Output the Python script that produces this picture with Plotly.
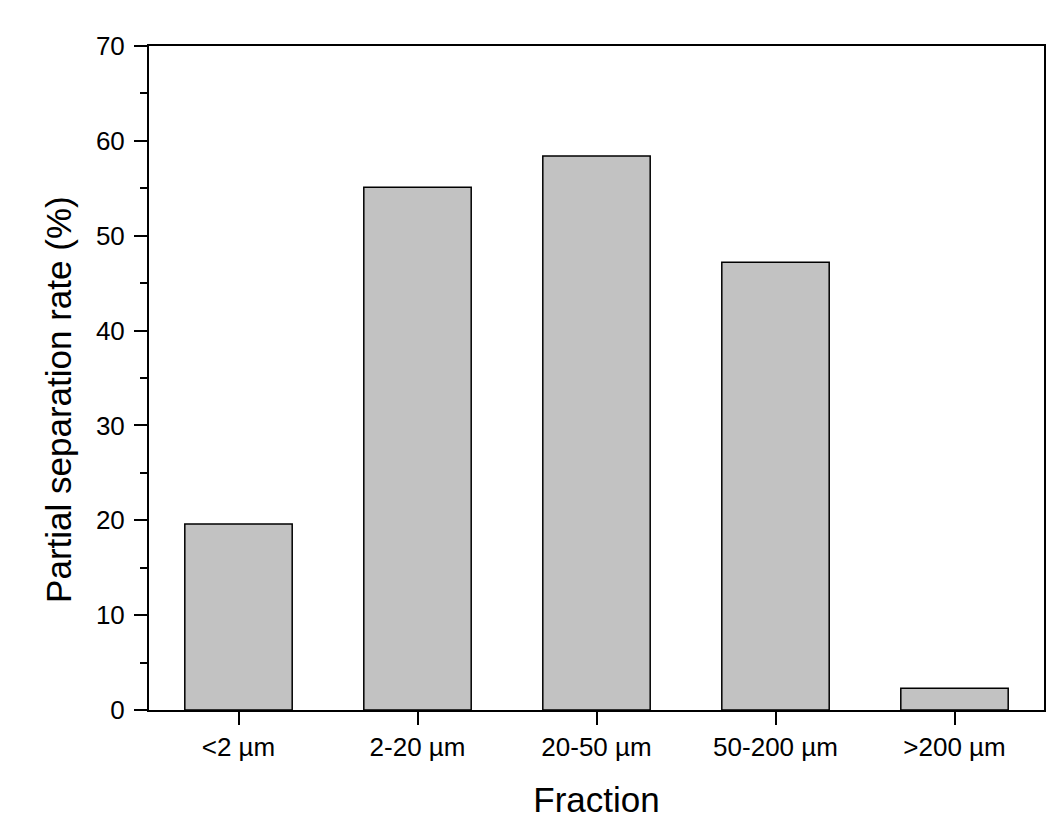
import plotly.graph_objects as go

categories = ["<2 µm", "2-20 µm", "20-50 µm", "50-200 µm", ">200 µm"]
values = [19.6, 55.1, 58.4, 47.2, 2.3]

fig = go.Figure()
fig.add_trace(go.Bar(
    x=categories, y=values, width=0.6,
    marker=dict(color="#c2c2c2", line=dict(color="#000000", width=1.5)),
))

font_family = "Liberation Sans, Arial, sans-serif"
fig.update_layout(
    width=1056, height=838,
    margin=dict(l=149, r=10, t=46, b=128),
    paper_bgcolor="white", plot_bgcolor="white",
    showlegend=False,
    font=dict(family=font_family, color="black"),
    xaxis=dict(
        title=dict(text="Fraction", font=dict(size=35), standoff=26),
        tickfont=dict(size=26),
        showline=True, linecolor="black", linewidth=2, mirror=True,
        ticks="outside", ticklen=13, tickwidth=2, tickcolor="black",
        showgrid=False, zeroline=False,
    ),
    yaxis=dict(
        tickfont=dict(size=26),
        range=[0, 70], dtick=10,
        ticklabelstandoff=4,
        showline=True, linecolor="black", linewidth=2, mirror=True,
        ticks="outside", ticklen=13, tickwidth=2, tickcolor="black",
        minor=dict(ticks="outside", ticklen=7, tickwidth=2, tickcolor="black", dtick=5),
        showgrid=False, zeroline=False,
    ),
    annotations=[dict(
        text="Partial separation rate (%)", font=dict(size=35),
        xref="paper", yref="paper", x=0, y=0.467,
        xanchor="center", yanchor="middle", xshift=-90,
        textangle=-90, showarrow=False,
    )],
)

fig.write_html("out.html")
